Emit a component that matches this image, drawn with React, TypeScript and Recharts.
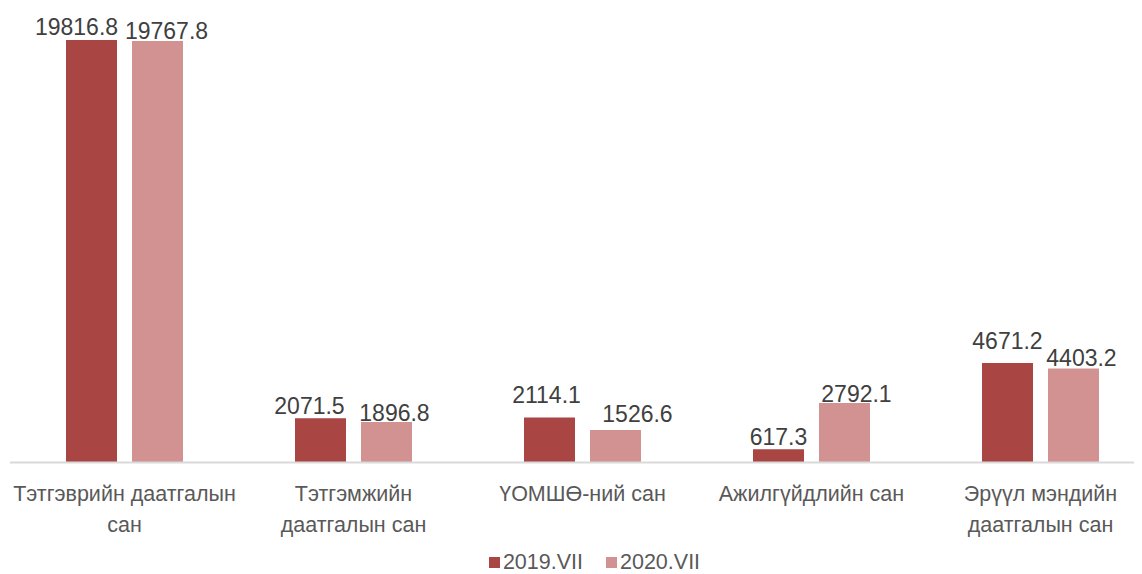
import React from "react";
import { BarChart, Bar, XAxis, YAxis, Legend, LabelList } from "recharts";

const categories = [
  "Тэтгэврийн даатгалын\nсан",
  "Тэтгэмжийн\nдаатгалын сан",
  "ҮОМШӨ-ний сан",
  "Ажилгүйдлийн сан",
  "Эрүүл мэндийн\nдаатгалын сан",
];
const series2019 = [19816.8, 2071.5, 2114.1, 617.3, 4671.2];
const series2020 = [19767.8, 1896.8, 1526.6, 2792.1, 4403.2];
const seriesNames = ["2019.VII", "2020.VII"];

// label nudges (style only, px) to mimic overlap avoidance
const shiftX2019 = [-15, -11, -3, 0, 0];
const shiftX2020 = [9, 8, 22, 12, 8];
const gapY2019 = [5, 4, 14, 4, 14];
const gapY2020 = [2, 1, 8, 1, 3];

const COLOR_A = "#A94543";
const COLOR_B = "#D29292";
const FONT = "'Liberation Sans', Arial, sans-serif";

const data = categories.map((c, i) => ({
  name: c,
  a: series2019[i],
  b: series2020[i],
}));

const Tick = (props: any) => {
  const { x, y, payload } = props;
  const lines = String(payload.value).split("\n");
  return (
    <g>
      {lines.map((l, i) => (
        <text
          key={i}
          x={x}
          y={y + 30 + i * 31}
          textAnchor="middle"
          fontSize={21.5}
          fill="#595959"
          fontFamily={FONT}
        >
          {l}
        </text>
      ))}
    </g>
  );
};

const makeLabel = (sx: number[], gy: number[]) => (props: any) => {
  const { x, y, width, value, index } = props;
  return (
    <text
      x={x + width / 2 + (sx[index] || 0)}
      y={y - (gy[index] ?? 5)}
      textAnchor="middle"
      fontSize={23}
      fill="#404040"
      fontFamily={FONT}
    >
      {value}
    </text>
  );
};

const LegendContent = () => (
  <div
    style={{
      height: 32,
      boxSizing: "border-box",
      paddingTop: 4,
      paddingLeft: 24,
      display: "flex",
      justifyContent: "center",
      alignItems: "flex-start",
      fontFamily: FONT,
      fontSize: 21.5,
      lineHeight: "21px",
      color: "#595959",
    }}
  >
    {[COLOR_A, COLOR_B].map((c, i) => (
      <div key={i} style={{ display: "flex", alignItems: "center", marginRight: i === 0 ? 23 : 0 }}>
        <span style={{ width: 11, height: 11, background: c, display: "inline-block", marginRight: 3 }} />
        <span>{seriesNames[i]}</span>
      </div>
    ))}
  </div>
);

export default function App() {
  return (
    <div style={{ width: 1134, height: 566, overflow: "hidden" }}>
      <BarChart
        width={1160}
        height={572}
        data={data}
        margin={{ top: 28, right: 13, bottom: 0, left: 2 }}
        barGap={15}
      >
        <XAxis
          dataKey="name"
          tick={<Tick />}
          tickLine={false}
          axisLine={{ stroke: "#D9D9D9", strokeWidth: 2 }}
          height={85.5}
          interval={0}
        />
        <YAxis hide domain={[0, 20000]} />
        <Legend verticalAlign="bottom" content={<LegendContent />} />
        <Bar dataKey="a" name={seriesNames[0]} fill={COLOR_A} barSize={51} isAnimationActive={false}>
          <LabelList dataKey="a" content={makeLabel(shiftX2019, gapY2019)} />
        </Bar>
        <Bar dataKey="b" name={seriesNames[1]} fill={COLOR_B} barSize={51} isAnimationActive={false}>
          <LabelList dataKey="b" content={makeLabel(shiftX2020, gapY2020)} />
        </Bar>
      </BarChart>
    </div>
  );
}
